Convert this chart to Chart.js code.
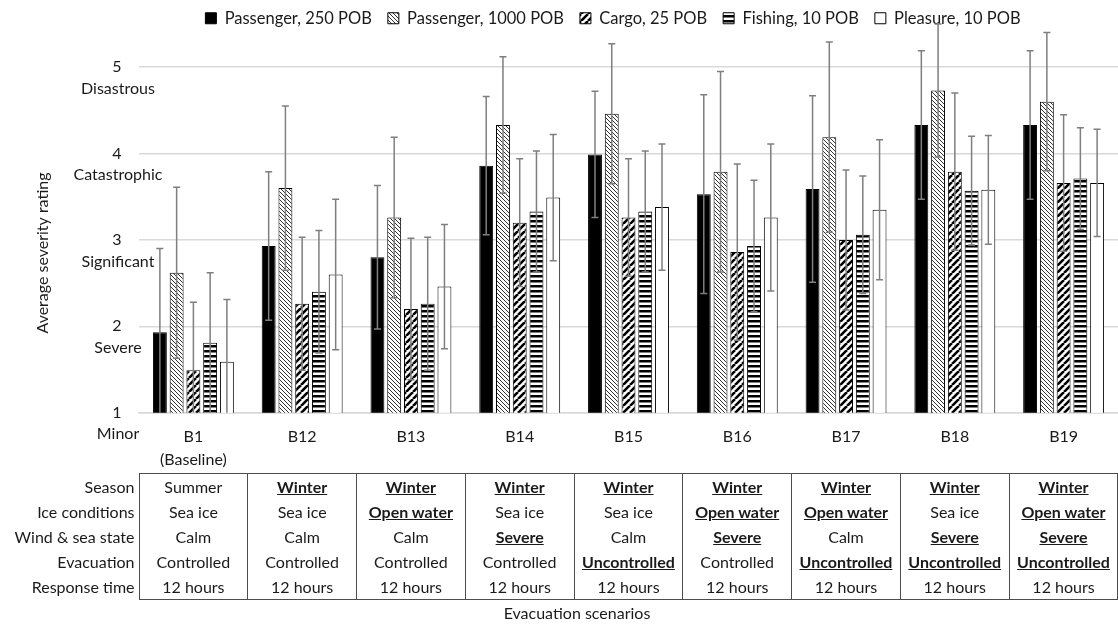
<!DOCTYPE html>
<html>
<head>
<meta charset="utf-8">
<script src="https://cdn.jsdelivr.net/npm/chart.js@4.4.1/dist/chart.umd.min.js"></script>
<style>
  html, body { margin: 0; padding: 0; background: #fff; overflow: hidden; }
  #wrap { position: relative; width: 1118px; height: 626px; overflow: hidden; }
  #chart { position: absolute; left: 0; top: 0; }
  #conditions {
    position: absolute; left: 0; top: 473px;
    border-collapse: collapse; table-layout: fixed;
    font: 16px Lato, sans-serif; color: #1a1a1a;
  }
  #conditions th {
    font-weight: normal; text-align: right; padding: 0 4px 0 0;
    height: 25px; line-height: 25px; white-space: nowrap;
  }
  #conditions td {
    text-align: center; padding: 0; height: 25px; line-height: 25px; white-space: nowrap;
    border-left: 1.5px solid #4d4d4d; border-right: 1.5px solid #4d4d4d;
  }
  #conditions tr:first-child td { border-top: 1.5px solid #4d4d4d; }
  #conditions tr:last-child td { border-bottom: 1.5px solid #4d4d4d; }
  #conditions td.changed { font-weight: bold; text-decoration: underline; }
  #xtitle {
    position: absolute; top: 603px; left: 477px; width: 200px; line-height: 20px;
    text-align: center; font: 16px Lato, sans-serif; color: #1a1a1a;
  }
</style>
</head>
<body>
<div id="wrap">
  <canvas id="chart" width="1118" height="626"></canvas>
  <table id="conditions"></table>
  <div id="xtitle">Evacuation scenarios</div>
</div>
<script>
// scenarios on the x axis
const categories = [['B1', '(Baseline)'], 'B12', 'B13', 'B14', 'B15', 'B16', 'B17', 'B18', 'B19'];

// average severity rating per vessel type, with +/- error
const passenger250 = [1.93, 2.93, 2.80, 3.86, 3.99, 3.53, 3.59, 4.33, 4.33];
const passenger250Err = [0.97, 0.86, 0.83, 0.80, 0.73, 1.15, 1.08, 0.86, 0.86];
const passenger1000 = [2.62, 3.60, 3.26, 4.33, 4.46, 3.79, 4.19, 4.73, 4.60];
const passenger1000Err = [0.99, 0.95, 0.93, 0.79, 0.81, 1.16, 1.10, 0.77, 0.80];
const cargo25 = [1.49, 2.26, 2.20, 3.20, 3.26, 2.86, 3.00, 3.79, 3.66];
const cargo25Err = [0.79, 0.77, 0.82, 0.74, 0.68, 1.02, 0.81, 0.91, 0.79];
const fishing10 = [1.81, 2.40, 2.26, 3.33, 3.33, 2.93, 3.06, 3.57, 3.71];
const fishing10Err = [0.81, 0.71, 0.77, 0.70, 0.70, 0.76, 0.68, 0.63, 0.59];
const pleasure10 = [1.59, 2.60, 2.46, 3.49, 3.38, 3.26, 3.35, 3.58, 3.66];
const pleasure10Err = [0.72, 0.87, 0.72, 0.73, 0.73, 0.85, 0.81, 0.63, 0.62];

// y axis tick labels
const severityTicks = [1, 2, 3, 4, 5];
const severityNames = ['Minor', 'Severe', 'Significant', 'Catastrophic', 'Disastrous'];

// scenario conditions table
const rowNames = ['Season', 'Ice conditions', 'Wind & sea state', 'Evacuation', 'Response time'];
const season = ['Summer', 'Winter', 'Winter', 'Winter', 'Winter', 'Winter', 'Winter', 'Winter', 'Winter'];
const iceConditions = ['Sea ice', 'Sea ice', 'Open water', 'Sea ice', 'Sea ice', 'Open water', 'Open water', 'Sea ice', 'Open water'];
const windSeaState = ['Calm', 'Calm', 'Calm', 'Severe', 'Calm', 'Severe', 'Calm', 'Severe', 'Severe'];
const evacuation = ['Controlled', 'Controlled', 'Controlled', 'Controlled', 'Uncontrolled', 'Controlled', 'Uncontrolled', 'Uncontrolled', 'Uncontrolled'];
const responseTime = ['12 hours', '12 hours', '12 hours', '12 hours', '12 hours', '12 hours', '12 hours', '12 hours', '12 hours'];

const TEXT = '#1a1a1a';
const GRID = '#d9d9d9';

Chart.defaults.font.family = 'Lato, sans-serif';
Chart.defaults.color = TEXT;

// bar fill patterns
function pattern(kind) {
    const c = document.createElement('canvas');
    const g = c.getContext('2d');
    g.lineCap = 'square';

    if (kind === 'horizontal') {
        c.width = 4;
        c.height = 5;
        g.fillStyle = '#fff';
        g.fillRect(0, 0, 4, 5);
        g.fillStyle = '#000';
        g.fillRect(0, 0, 4, 2.5);
        return g.createPattern(c, 'repeat');
    }

    const s = kind === 'fine' ? 4 : 7;
    c.width = s;
    c.height = s;
    g.fillStyle = '#fff';
    g.fillRect(0, 0, s, s);
    g.strokeStyle = kind === 'fine' ? '#333' : '#000';
    g.lineWidth = kind === 'fine' ? 1 : 2.6;
    g.beginPath();
    for (let k = -1; k <= 1; k++) {
        if (kind === 'fine') {
            g.moveTo(k * s, 0);
            g.lineTo(k * s + s, s);
        } else {
            g.moveTo(k * s, s);
            g.lineTo(k * s + s, 0);
        }
    }
    g.stroke();
    return g.createPattern(c, 'repeat');
}

const errorSeries = [passenger250Err, passenger1000Err, cargo25Err, fishing10Err, pleasure10Err];

const errorBars = {
    id: 'errorBars',
    afterDatasetsDraw(chart) {
        const ctx = chart.ctx;
        const y = chart.scales.y;
        ctx.save();
        ctx.strokeStyle = '#7f7f7f';
        ctx.lineWidth = 1.5;
        chart.data.datasets.forEach((ds, i) => {
            chart.getDatasetMeta(i).data.forEach((bar, j) => {
                const v = ds.data[j];
                const e = errorSeries[i][j];
                const top = y.getPixelForValue(v + e);
                const low = Math.max(v - e, y.min);
                const bot = y.getPixelForValue(low);
                ctx.beginPath();
                ctx.moveTo(bar.x, top);
                ctx.lineTo(bar.x, bot);
                ctx.moveTo(bar.x - 3.5, top);
                ctx.lineTo(bar.x + 3.5, top);
                if (v - e > y.min) {
                    ctx.moveTo(bar.x - 3.5, bot);
                    ctx.lineTo(bar.x + 3.5, bot);
                }
                ctx.stroke();
            });
        });
        ctx.restore();
    }
};

// number on the gridline, severity word under it, plus the axis title
const severityLabels = {
    id: 'severityLabels',
    afterDraw(chart) {
        const ctx = chart.ctx;
        const y = chart.scales.y;
        ctx.save();
        ctx.fillStyle = TEXT;
        ctx.font = '16px Lato, sans-serif';
        ctx.textAlign = 'center';
        ctx.textBaseline = 'middle';
        severityTicks.forEach((t, k) => {
            const py = y.getPixelForValue(t);
            ctx.fillText(String(t), 117, py);
            ctx.fillText(severityNames[k], 118, py + 21.5);
        });
        ctx.translate(42.5, 253);
        ctx.rotate(-Math.PI / 2);
        ctx.fillText('Average severity rating', 0, 0);
        ctx.restore();
    }
};

const ctx = document.getElementById('chart').getContext('2d');

const chart = new Chart(ctx, {
    type: 'bar',
    data: {
        labels: categories,
        datasets: [
            { label: 'Passenger, 250 POB', data: passenger250, backgroundColor: '#000' },
            { label: 'Passenger, 1000 POB', data: passenger1000, backgroundColor: pattern('fine') },
            { label: 'Cargo, 25 POB', data: cargo25, backgroundColor: pattern('wide') },
            { label: 'Fishing, 10 POB', data: fishing10, backgroundColor: pattern('horizontal') },
            { label: 'Pleasure, 10 POB', data: pleasure10, backgroundColor: '#fff' }
        ].map(ds => Object.assign(ds, {
            borderColor: '#000',
            borderWidth: 1,
            borderSkipped: false,
            categoryPercentage: 0.77,
            barPercentage: 0.83
        }))
    },
    options: {
        responsive: false,
        animation: false,
        events: [],
        layout: {
            padding: { left: 104.5, right: -3.5, top: -6, bottom: 153.3 }
        },
        plugins: {
            legend: {
                position: 'top',
                labels: {
                    boxWidth: 11,
                    boxHeight: 11,
                    padding: 16,
                    color: TEXT,
                    font: { size: 16.5 }
                }
            },
            tooltip: { enabled: false }
        },
        scales: {
            x: {
                grid: { display: false, drawTicks: false },
                border: { color: GRID, width: 1.5 },
                ticks: {
                    color: TEXT,
                    font: { size: 16, lineHeight: 1.4375 },
                    padding: 13,
                    maxRotation: 0,
                    autoSkip: false
                },
                afterFit(scale) {
                    scale.height = 60;
                }
            },
            y: {
                min: 1,
                max: 5.355,
                grid: { color: GRID, lineWidth: 1.5, drawTicks: false },
                border: { display: false },
                ticks: { display: false, stepSize: 1, includeBounds: false },
                afterFit(scale) {
                    scale.width = 34.5;
                }
            }
        }
    },
    plugins: [errorBars, severityLabels]
});

// conditions table under the chart, columns aligned to the categories
function buildTable() {
    const area = chart.chartArea;
    const cw = (area.right - area.left) / categories.length;
    const table = document.getElementById('conditions');
    table.style.width = (area.left + cw * categories.length) + 'px';

    let html = '<colgroup><col style="width:' + area.left + 'px">';
    categories.forEach(() => { html += '<col style="width:' + cw + 'px">'; });
    html += '</colgroup>';

    [season, iceConditions, windSeaState, evacuation, responseTime].forEach((row, r) => {
        html += '<tr><th>' + rowNames[r] + '</th>';
        row.forEach(cell => {
            const cls = cell !== row[0] ? ' class="changed"' : '';
            html += '<td' + cls + '>' + cell + '</td>';
        });
        html += '</tr>';
    });
    table.innerHTML = html;
}

buildTable();
</script>
</body>
</html>
